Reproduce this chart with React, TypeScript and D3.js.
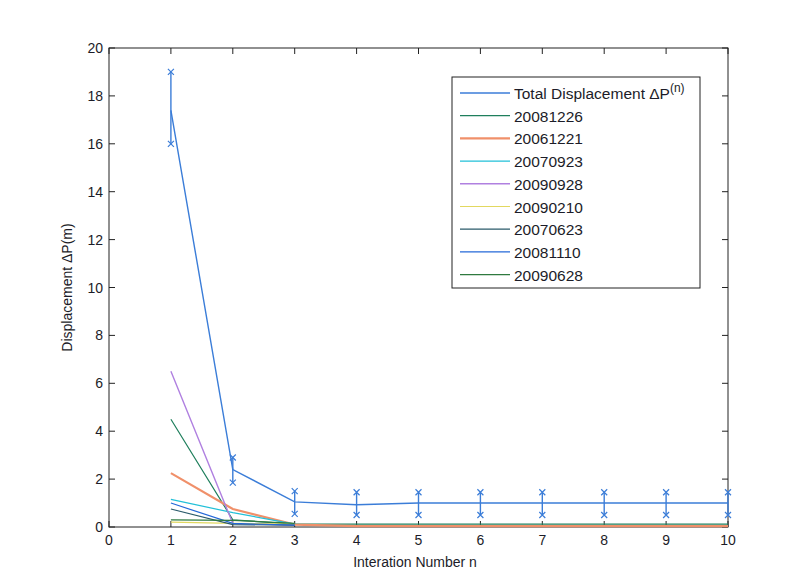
import React from "react";
import * as d3 from "d3";

// iteration numbers and total displacement (mean with error range)
const iterations = [1, 2, 3, 4, 5, 6, 7, 8, 9, 10];
const totalMean = [17.4, 2.4, 1.05, 0.93, 1.0, 1.0, 1.0, 1.0, 1.0, 1.0];
const totalLow = [16.0, 1.85, 0.55, 0.5, 0.5, 0.5, 0.5, 0.5, 0.5, 0.5];
const totalHigh = [19.0, 2.9, 1.5, 1.45, 1.45, 1.45, 1.45, 1.45, 1.45, 1.45];

// per-epoch displacement, starting at iteration 1
const dates = ["20081226", "20061221", "20070923", "20090928", "20090210", "20070623", "20081110", "20090628"];
const s20081226 = [4.5, 0.3, 0.12, 0.12, 0.12, 0.12, 0.12, 0.12, 0.12, 0.12];
const s20061221 = [2.25, 0.75, 0.1, 0.04, 0.04, 0.04, 0.04, 0.04, 0.04, 0.04];
const s20070923 = [1.15, 0.6, 0.12];
const s20090928 = [6.5, 0.15, 0.08];
const s20090210 = [0.2, 0.15, 0.12];
const s20070623 = [0.75, 0.1, 0.08];
const s20081110 = [1.0, 0.15, 0.08];
const s20090628 = [0.3, 0.28, 0.15];
const seriesValues = [s20081226, s20061221, s20070923, s20090928, s20090210, s20070623, s20081110, s20090628];
const colors = ["#1f7f5c", "#f0906a", "#22c0d8", "#b080e0", "#e2d860", "#2a5a6a", "#2468d8", "#2f7a3f"];
const widths = [1.2, 2.2, 1.2, 1.4, 1.2, 1.2, 1.2, 1.2];
const totalColor = "#3b7dd8";

const xTicks = d3.range(0, 11);
const yTicks = d3.range(0, 21, 2);

const W = 792;
const H = 588;
const left = 109, right = 728, top = 48, bottom = 527;
const font = "'Liberation Sans', Arial, sans-serif";
const textColor = "#1c1c28";

export default function App() {
  const x = d3.scaleLinear().domain([0, 10]).range([left, right]);
  const y = d3.scaleLinear().domain([0, 20]).range([bottom, top]);
  const line = d3.line<number>()
    .x((_, i) => x(iterations[i]))
    .y((d) => y(d));

  const xMark = (cx: number, cy: number, k: string) => (
    <path key={k} d={`M${cx - 3},${cy - 3}L${cx + 3},${cy + 3}M${cx - 3},${cy + 3}L${cx + 3},${cy - 3}`}
      stroke={totalColor} strokeWidth={1.2} fill="none" />
  );

  const legendX = 452, legendY = 77, legendW = 248, legendH = 211;
  const rowH = 22.7;

  return (
    <svg width={W} height={H} style={{ position: "absolute", left: 0, top: 0, background: "#fff" }}>
      {/* axes box */}
      <rect x={left} y={top} width={right - left} height={bottom - top} fill="#fff" stroke="#222" strokeWidth={1} />
      {/* ticks */}
      {xTicks.map((t) => (
        <g key={"xt" + t}>
          <line x1={x(t)} x2={x(t)} y1={bottom} y2={bottom - 6} stroke="#222" />
          <line x1={x(t)} x2={x(t)} y1={top} y2={top + 6} stroke="#222" />
          <text x={x(t)} y={bottom + 18} textAnchor="middle" fontSize={14} fontFamily={font} fill={textColor}>{t}</text>
        </g>
      ))}
      {yTicks.map((t) => (
        <g key={"yt" + t}>
          <line x1={left} x2={left + 6} y1={y(t)} y2={y(t)} stroke="#222" />
          <line x1={right} x2={right - 6} y1={y(t)} y2={y(t)} stroke="#222" />
          <text x={left - 6} y={y(t) + 5} textAnchor="end" fontSize={14} fontFamily={font} fill={textColor}>{t}</text>
        </g>
      ))}

      {/* epoch series */}
      {seriesValues.map((vals, i) => (
        <path key={"s" + i} d={line(vals) || ""} fill="none" stroke={colors[i]} strokeWidth={widths[i]} />
      ))}

      {/* total displacement with error bars */}
      <path d={line(totalMean) || ""} fill="none" stroke={totalColor} strokeWidth={1.4} />
      {iterations.map((it, i) => (
        <g key={"eb" + i}>
          <line x1={x(it)} x2={x(it)} y1={y(totalLow[i])} y2={y(totalHigh[i])} stroke={totalColor} strokeWidth={1.4} />
          {xMark(x(it), y(totalLow[i]), "lo")}
          {xMark(x(it), y(totalHigh[i]), "hi")}
        </g>
      ))}

      {/* axis labels */}
      <text x={415} y={567} textAnchor="middle" fontSize={14} fontFamily={font} fill={textColor}>Interation Number n</text>
      <text transform={`translate(72,${(top + bottom) / 2}) rotate(-90)`} textAnchor="middle" fontSize={14} fontFamily={font} fill={textColor}>
        Displacement ΔP(m)
      </text>

      {/* legend */}
      <rect x={legendX} y={legendY} width={legendW} height={legendH} fill="#fff" stroke="#222" />
      {[{ name: "total", color: totalColor, w: 1.4 }, ...dates.map((d, i) => ({ name: d, color: colors[i], w: widths[i] }))].map((e, i) => {
        const ry = legendY + 16 + i * rowH;
        return (
          <g key={"lg" + i}>
            <line x1={legendX + 8} x2={legendX + 58} y1={ry} y2={ry} stroke={e.color} strokeWidth={e.w} />
            <text x={legendX + 62} y={ry + 6} fontSize={15.5} fontFamily={font} fill={textColor}>
              {i === 0 ? (
                <>
                  Total Displacement ΔP<tspan dy={-7} fontSize={12}>(n)</tspan>
                </>
              ) : e.name}
            </text>
          </g>
        );
      })}
    </svg>
  );
}
